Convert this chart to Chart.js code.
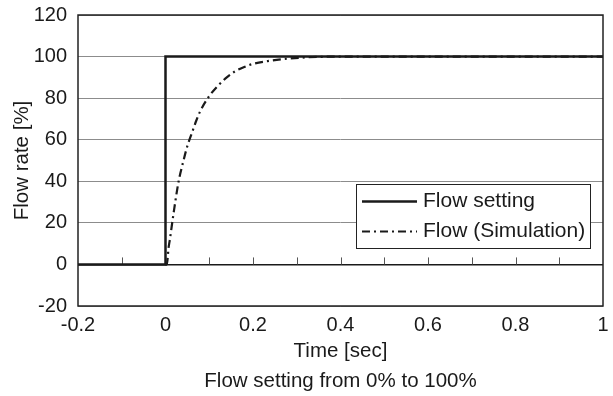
<!DOCTYPE html>
<html>
<head>
<meta charset="utf-8">
<script src="https://cdn.jsdelivr.net/npm/chart.js@4"></script>
<style>
  html, body { margin: 0; padding: 0; background: #fff; }
  #wrap { width: 613px; height: 396px; }
</style>
</head>
<body>
<div id="wrap"><canvas id="c" width="613" height="396"></canvas></div>
<script>
// ---- data ----
const seriesNames = ['Flow setting', 'Flow (Simulation)'];
const settingTime = [-0.2, 0, 0, 1];
const settingFlow = [0, 0, 100, 100];
const simTime = [0, 0.003, 0.007, 0.01, 0.018, 0.03, 0.04, 0.05, 0.06, 0.07, 0.08, 0.1, 0.12, 0.14, 0.16, 0.18, 0.2, 0.24, 0.28, 0.32, 0.4, 0.5, 0.6, 0.7, 0.8, 0.9, 1.0];
const simFlow = [0, 0, 8, 12, 24, 40, 49, 57, 63, 69, 74, 81, 86, 90, 93, 95, 96.5, 98, 99, 99.6, 100, 100, 100, 100, 100, 100, 100];
const xTickLabels = ['-0.2', '0', '0.2', '0.4', '0.6', '0.8', '1'];
const yTickLabels = ['-20', '0', '20', '40', '60', '80', '100', '120'];
const minorTickValues = [-0.1, 0.1, 0.2, 0.3, 0.4, 0.5, 0.6, 0.7, 0.8, 0.9];
const xTitle = 'Time [sec]';
const caption = 'Flow setting from 0% to 100%';
const yTitle = 'Flow rate [%]';

const FONT = "'Liberation Sans', Arial, Helvetica, sans-serif";
const toPts = (xs, ys) => xs.map((x, i) => ({ x: x, y: ys[i] }));

const frame = {
  id: 'frame',
  beforeDatasetsDraw(chart) {
    const { ctx, scales: { x, y } } = chart;
    const y0 = y.getPixelForValue(0);
    ctx.save();
    ctx.strokeStyle = '#555';
    ctx.lineWidth = 1;
    minorTickValues.forEach(v => {
      const px = Math.round(x.getPixelForValue(v)) + 0.5;
      ctx.beginPath();
      ctx.moveTo(px, y0);
      ctx.lineTo(px, y0 - 7);
      ctx.stroke();
    });
    ctx.restore();
  },
  afterDatasetsDraw(chart) {
    const { ctx, chartArea: a } = chart;
    ctx.save();
    ctx.strokeStyle = '#222';
    ctx.lineWidth = 1.5;
    ctx.strokeRect(a.left, a.top, a.right - a.left, a.bottom - a.top);
    // legend box
    const bx = a.right - 247, by = a.bottom - 122, bw = 234, bh = 64;
    ctx.fillStyle = '#fff';
    ctx.fillRect(bx, by, bw, bh);
    ctx.lineWidth = 1;
    ctx.strokeStyle = '#222';
    ctx.strokeRect(bx + 0.5, by + 0.5, bw, bh);
    const rows = [by + 17.5, by + 47.5];
    ctx.strokeStyle = '#1a1a1a';
    ctx.lineWidth = 2.5;
    ctx.setLineDash([]);
    ctx.beginPath(); ctx.moveTo(bx + 6, rows[0]); ctx.lineTo(bx + 61, rows[0]); ctx.stroke();
    ctx.lineWidth = 2.2;
    ctx.setLineDash([8, 4, 2, 4]);
    ctx.beginPath(); ctx.moveTo(bx + 6, rows[1]); ctx.lineTo(bx + 61, rows[1]); ctx.stroke();
    ctx.setLineDash([]);
    ctx.fillStyle = '#1a1a1a';
    ctx.font = '21px ' + FONT;
    ctx.textBaseline = 'middle';
    ctx.textAlign = 'left';
    ctx.fillText(seriesNames[0], bx + 67, rows[0]);
    ctx.fillText(seriesNames[1], bx + 67, rows[1]);
    ctx.restore();
  }
};

new Chart(document.getElementById('c'), {
  type: 'line',
  data: {
    datasets: [
      {
        label: seriesNames[1],
        data: toPts(simTime, simFlow),
        borderColor: '#1a1a1a',
        borderWidth: 2.2,
        borderDash: [8, 4, 2, 4],
        pointRadius: 0,
        fill: false,
        cubicInterpolationMode: 'monotone'
      },
      {
        label: seriesNames[0],
        data: toPts(settingTime, settingFlow),
        borderColor: '#1a1a1a',
        borderWidth: 2.5,
        pointRadius: 0,
        fill: false,
        tension: 0
      }
    ]
  },
  options: {
    responsive: false,
    animation: false,
    events: [],
    layout: { padding: { top: 15, right: 10, bottom: 0, left: 0 } },
    plugins: { legend: { display: false }, tooltip: { enabled: false }, title: { display: false } },
    scales: {
      x: {
        type: 'linear',
        min: -0.2, max: 1,
        afterBuildTicks(s) { s.ticks = xTickLabels.map(t => ({ value: parseFloat(t) })); },
        afterFit(s) { s.height = 90; s.paddingLeft = 0; s.paddingRight = 0; },
        grid: { display: false, drawTicks: false },
        border: { display: false },
        ticks: {
          padding: 7,
          color: '#1a1a1a',
          font: { family: FONT, size: 20 },
          maxRotation: 0,
          autoSkip: false,
          callback: (v, i) => xTickLabels[i]
        },
        title: {
          display: true,
          text: [xTitle, caption],
          color: '#1a1a1a',
          font: { family: FONT, size: 20.5, lineHeight: 30 / 20.5 },
          padding: { top: 0, bottom: 0 }
        }
      },
      y: {
        type: 'linear',
        min: -20, max: 120,
        afterBuildTicks(s) { s.ticks = yTickLabels.map(t => ({ value: parseFloat(t) })); },
        afterFit(s) { s.width = 78; s.paddingTop = 0; s.paddingBottom = 0; },
        grid: {
          drawTicks: false,
          color: c => (c.tick.value === 0 ? '#1a1a1a' : '#8c8c8c'),
          lineWidth: c => (c.tick.value === 0 ? 1.5 : 1)
        },
        border: { display: false },
        ticks: {
          padding: 11,
          color: '#1a1a1a',
          font: { family: FONT, size: 20 },
          autoSkip: false,
          callback: (v, i) => yTickLabels[i]
        },
        title: {
          display: true,
          text: yTitle,
          color: '#1a1a1a',
          font: { family: FONT, size: 20.5 },
          padding: { top: 10, bottom: 0 }
        }
      }
    }
  },
  plugins: [frame]
});
</script>
</body>
</html>
